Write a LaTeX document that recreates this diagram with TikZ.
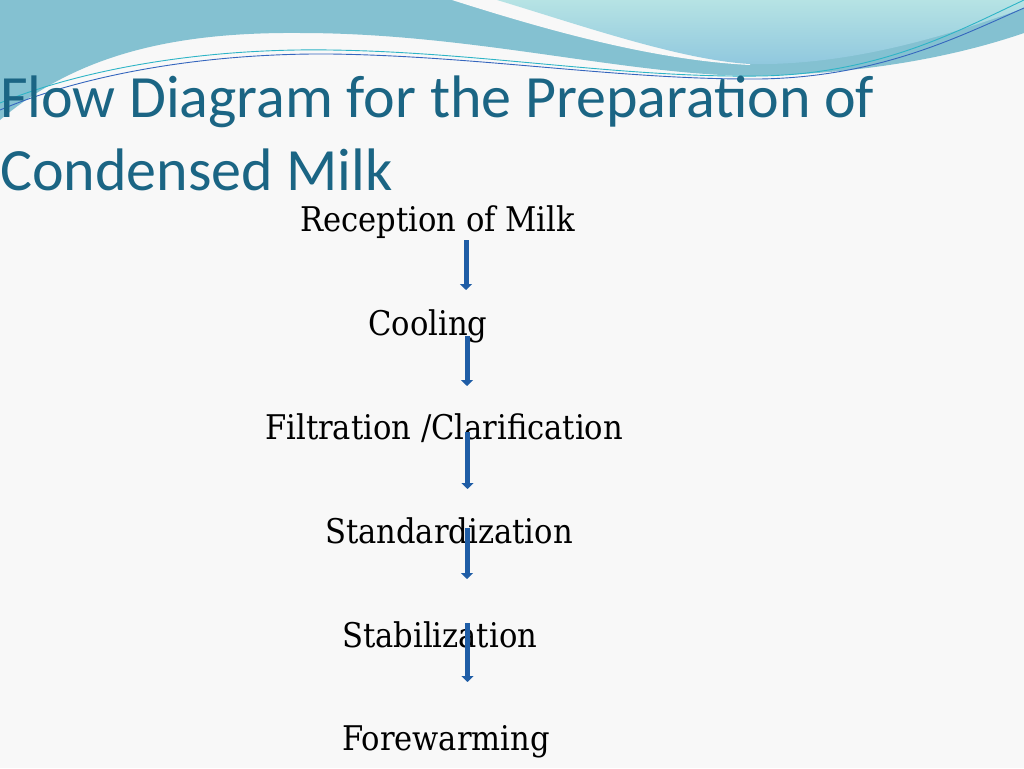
\documentclass[tikz,border=0pt]{standalone}
\usepackage{fontspec}
\usepackage{tikz}
\usetikzlibrary{arrows.meta}
\setmainfont{DejaVu Serif Condensed}
\newfontfamily\titlefont{Carlito}
\definecolor{pagebg}{HTML}{F8F8F8}
\definecolor{waveteal}{HTML}{84C1D1}
\definecolor{wavelighttop}{HTML}{B6E3E4}
\definecolor{wavelightbot}{HTML}{8FC7DE}
\definecolor{linecyan}{HTML}{2DB4C6}
\definecolor{lineblue}{HTML}{3566BE}
\definecolor{titleteal}{HTML}{1B6584}
\definecolor{arrowblue}{HTML}{1F5DA6}

\begin{document}
\begin{tikzpicture}[x=1pt, y=-1pt,
	stage/.style={anchor=base west, inner sep=0pt, font=\fontsize{34}{40}\selectfont},
	headline/.style={anchor=base west, inner sep=0pt, text=titleteal, font=\titlefont\fontsize{60}{73}\selectfont},
	flow/.style={-{Triangle[width=12pt,length=6pt]}, line width=5pt, arrowblue}]
	
	\fill[pagebg] (0,0) rectangle (1024,768);
	\useasboundingbox (0,0) rectangle (1024,768);
	
	% waves at the top
	\fill[waveteal] (0,0) -- (1024,0) -- (1024,33) .. controls (960,55) and (870,74) .. (750,76) .. controls (620,74) and (470,33) .. (300,33) .. controls (180,32) and (80,52) .. (0,120) -- cycle;
	\fill[pagebg] (452,0) .. controls (540,28) and (650,60) .. (750,65) -- (750,0) -- cycle;
	\shade[top color=wavelighttop, bottom color=wavelightbot] (497,0) .. controls (580,25) and (680,60) .. (750,64) .. controls (850,66) and (950,35) .. (1024,8) -- (1024,0) -- cycle;
	\draw[linecyan, line width=0.9pt] (0,103) .. controls (80,70) and (200,48) .. (330,50) .. controls (480,52) and (620,78) .. (760,76) .. controls (880,74) and (960,30) .. (1024,0);
	\draw[lineblue, line width=0.9pt] (0,110) .. controls (80,76) and (200,53) .. (330,54) .. controls (480,56) and (620,80) .. (760,79) .. controls (880,77) and (960,36) .. (1024,8);
	
	% title
	\node[headline] (title1) at (0, 117) {Flow Diagram for the Preparation of};
	\node[headline] (title2) at (0, 190) {Condensed Milk};
	
	% stages
	\node[stage] (reception) at (300, 231) {Reception of Milk};
	\node[stage] (cooling)   at (368, 335) {Cooling};
	\node[stage] (filter)    at (265, 439) {Filtration /Clarification};
	\node[stage] (standard)  at (325, 543) {Standardization};
	\node[stage] (stabil)    at (342, 647) {Stabilization};
	\node[stage] (forewarm)  at (342, 750) {Forewarming};
	
	\coordinate (a1) at (466, 240);   \coordinate (b1) at (466, 290);
	\coordinate (a2) at (467, 336);   \coordinate (b2) at (467, 386);
	\coordinate (a3) at (467.5, 432); \coordinate (b3) at (467.5, 489);
	\coordinate (a4) at (467, 528);   \coordinate (b4) at (467, 579);
	\coordinate (a5) at (467.5, 623); \coordinate (b5) at (467.5, 682);
	
	\draw[flow] (a1) -- (b1);
	\draw[flow] (a2) -- (b2);
	\draw[flow] (a3) -- (b3);
	\draw[flow] (a4) -- (b4);
	\draw[flow] (a5) -- (b5);
	
\end{tikzpicture}
\end{document}
